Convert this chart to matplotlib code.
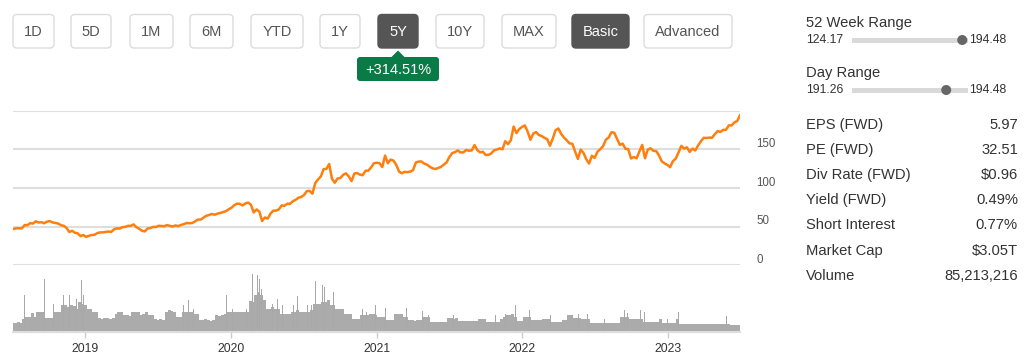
import numpy as np
import pandas as pd
import matplotlib
matplotlib.use("Agg")
import matplotlib.pyplot as plt
from matplotlib.patches import FancyBboxPatch, Polygon, Circle, Rectangle
from matplotlib.transforms import ScaledTranslation

plt.rcParams['font.family'] = ['Liberation Sans', 'DejaVu Sans']

W, H = 1026, 361

# weekly closes, one per week starting with the week of 2018-07-02
first_week = pd.Timestamp('2018-07-02')
price_weekly = [
    # 2018
    47.0, 47.8, 47.9, 47.7, 52.0, 51.9, 54.4, 54.0, 56.9, 55.3, 55.8, 54.4, 56.4,
    57.2, 55.5, 54.8, 54.1, 51.9, 51.1, 48.4, 43.1, 44.6, 42.1, 41.4, 37.7, 39.1,
    # 2019
    36.8, 38.1, 39.2, 39.4, 41.6, 42.6, 42.6, 43.2, 43.7, 43.2, 46.5, 47.8, 47.5,
    49.3, 49.7, 51.0, 51.1, 52.9, 49.3, 47.3, 44.7, 43.8, 47.5, 48.2, 49.7, 49.5,
    51.1, 50.8, 50.6, 52.0, 51.0, 50.2, 51.6, 50.7, 52.2, 53.3, 54.7, 54.4, 54.7,
    56.8, 59.1, 59.1, 61.6, 64.0, 65.0, 66.4, 65.4, 66.8, 67.7, 68.8, 69.9, 72.4,
    # 2020
    74.4, 77.6, 79.7, 79.6, 77.4, 80.0, 81.2, 78.3, 68.3, 72.3, 69.5, 57.3, 61.9,
    60.4, 66.9, 70.7, 70.7, 72.3, 77.5, 76.9, 79.7, 79.5, 82.9, 84.7, 87.4, 88.4,
    91.0, 95.9, 96.3, 92.6, 106.3, 111.1, 114.9, 124.4, 124.8, 131.0, 112.0, 106.8,
    112.3, 113.0, 117.0, 119.0, 115.0, 108.9, 118.7, 119.3, 117.3, 116.6, 122.3,
    122.4, 126.7, 132.0, 132.7,
    # 2021
    132.1, 127.1, 142.0, 132.0, 136.8, 135.4, 129.9, 121.3, 119.0, 121.0, 120.5,
    121.2, 123.0, 133.0, 134.2, 134.3, 131.5, 130.2, 127.5, 125.4, 124.6, 125.9,
    127.4, 130.2, 133.1, 140.0, 145.1, 146.4, 148.6, 145.9, 146.1, 149.1, 148.2,
    148.6, 155.5, 149.0, 146.1, 146.9, 142.7, 142.9, 144.8, 148.7, 149.8, 151.3,
    150.0, 160.6, 156.8, 161.8, 179.5, 171.1, 176.3, 179.0,
    # 2022
    181.0, 173.1, 162.4, 170.3, 172.4, 168.6, 167.3, 164.9, 163.2, 154.7, 164.0,
    174.7, 177.0, 170.1, 165.3, 161.8, 157.7, 157.3, 147.1, 137.6, 149.6, 145.4,
    137.1, 131.6, 141.7, 138.9, 147.0, 150.2, 154.1, 162.5, 165.4, 172.1, 171.5,
    163.6, 155.8, 157.4, 150.7, 150.4, 138.2, 140.1, 138.4, 147.3, 155.7, 138.4,
    149.7, 151.3, 148.1, 147.8, 142.2, 134.5, 131.9, 129.9,
    # 2023
    127.0, 134.8, 137.9, 145.9, 154.5, 151.0, 152.6, 146.7, 151.0, 148.5, 155.0,
    160.3, 164.9, 164.7, 165.2, 165.0, 169.7, 173.6, 172.6, 175.2, 175.4, 181.0,
    181.0, 184.9, 186.7, 194.0,
]

# typical daily volume per week, millions of shares
volume_weekly = [
    70, 68, 72, 70, 99, 112, 115, 140, 110, 149, 150,
    150, 104, 106, 104, 149, 145, 150, 198, 198, 186,
    198, 195, 174, 223, 211, 198, 174, 170, 149, 150,
    104, 100, 106, 104, 98, 104, 136, 149, 145, 124,
    124, 120, 149, 150, 149, 124, 130, 149, 124, 124,
    94, 90, 96, 92, 149, 161, 158, 149, 112, 115,
    149, 150, 149, 150,
    136, 136, 87, 87, 99, 87,
    85, 88, 124, 120, 124, 136, 149, 145, 149, 150,
    149, 149, 145, 150, 228, 223, 273, 298, 273, 236,
    174, 174, 186, 174, 170, 136, 136, 130, 136, 149,
    149, 161, 149, 145, 149, 149, 161, 211, 211, 205,
    223, 223, 236, 198, 198, 174, 170, 174, 136, 136,
    130, 99, 99, 95, 124, 124, 124, 136, 136, 124,
    112, 112, 112, 87, 87, 87, 136, 136, 130, 112,
    112, 87, 87, 85, 87, 87, 112, 112, 112, 74,
    74, 76, 74, 72, 74, 104, 104, 100, 104, 79,
    79, 82, 79, 79, 79, 80, 99, 99, 99, 74,
    74, 74, 74, 74, 99, 112, 124, 124, 136, 112,
    79, 79, 112, 112, 112, 87, 87, 87, 87, 99,
    99, 99, 74, 74, 74, 74, 87, 87, 129, 129,
    104, 104, 104, 94, 94, 94, 69, 69, 69, 69,
    69, 69, 69, 69, 69, 69, 69, 112, 112, 112,
    94, 94, 94, 94, 94, 74, 74, 74, 74, 74,
    74, 99, 69, 69, 69, 69, 69, 94, 60, 60,
    60, 60, 60, 60, 60, 60, 60, 60, 60, 60,
    62, 62, 62, 62, 62, 62, 55, 55, 55, 55,
]

# single-day volume spikes: position in weeks from first_week, millions
spike_week = [
    4.5, 11.7, 14.8, 18.0, 18.6, 20.6, 23.1, 24.9, 25.7, 26.5, 30.1, 37.3, 43.0,
    44.8, 46.3, 50.5, 55.8, 56.3, 59.4, 61.4, 63.2, 65.0, 69.4, 76.7, 79.0, 81.7,
    84.0, 86.2, 87.0, 88.0, 88.6, 89.4, 93.3, 95.1, 96.9, 100.7, 102.1, 105.8,
    107.3, 108.5, 111.2, 112.0, 113.2, 115.0, 118.6, 125.4, 126.9, 128.1, 130.2,
    133.7, 137.9, 138.8, 141.2, 146.9, 149.0, 158.2, 166.2, 173.0, 176.7, 177.9,
    179.3, 180.3, 185.3, 186.2, 189.7, 192.8, 200.9, 202.7, 206.0, 212.0, 219.1,
    220.3, 224.8, 226.3, 232.0, 234.6, 238.5, 244.1, 251.6, 255.7,
]
spike_volume = [
    273, 397, 211, 372, 273, 273, 248, 384, 273, 367, 248, 203, 273,
    236, 161, 198, 285, 211, 198, 198, 236, 174, 154, 273, 174, 218,
    174, 427, 347, 422, 392, 322, 211, 243, 203, 203, 268, 198,
    203, 377, 347, 335, 327, 298, 263, 174, 149, 174, 198,
    179, 161, 179, 181, 154, 129, 124, 144, 124, 136, 169,
    149, 198, 161, 179, 144, 129, 179, 136, 136, 94, 161,
    144, 161, 149, 161, 99, 149, 94, 119, 119,
]

buttons = ['1D', '5D', '1M', '6M', 'YTD', '1Y', '5Y', '10Y', 'MAX', 'Basic', 'Advanced']
active_buttons = ['5Y', 'Basic']
change_text = '+314.51%'

range_52w = (124.17, 194.48)
range_day = (191.26, 194.48)
last_price = 193.97

stat_names = ['EPS (FWD)', 'PE (FWD)', 'Div Rate (FWD)', 'Yield (FWD)',
              'Short Interest', 'Market Cap', 'Volume']
stat_values = ['5.97', '32.51', '$0.96', '0.49%', '0.77%', '$3.05T', '85,213,216']

year_labels = ['2019', '2020', '2021', '2022', '2023']
price_ticks = [0, 50, 100, 150, 200]
price_tick_labels = ['0', '50', '100', '150', '']

weeks = first_week + pd.to_timedelta(np.arange(len(price_weekly)) * 7, unit='D')
price_dates = weeks + pd.Timedelta(days=4)
vol_dates = weeks + pd.Timedelta(days=2)
spike_dates = first_week + pd.to_timedelta(np.round(np.array(spike_week) * 7), unit='D')
x_range = (pd.Timestamp('2018-07-05'), pd.Timestamp('2023-06-30'))

fig = plt.figure(figsize=(W / 100, H / 100), dpi=100)
fig.patch.set_facecolor('white')

# ---- ui layer in pixel coordinates ----
ui = fig.add_axes([0, 0, 1, 1])
ui.set_xlim(0, W)
ui.set_ylim(H, 0)
ui.axis('off')

btn_x = [(13, 54), (71, 111), (130, 173), (190, 233), (251, 303), (320, 360),
         (378, 418), (436, 484), (502, 556), (572, 629), (644, 732)]
for name, (x0, x1) in zip(buttons, btn_x):
    on = name in active_buttons
    ui.add_patch(FancyBboxPatch((x0, 14.5), x1 - x0, 33.5,
                                boxstyle='round,pad=0,rounding_size=4',
                                fc='#555555' if on else 'white',
                                ec='#555555' if on else '#dcdcdc', lw=1))
    ui.text((x0 + x1) / 2, 31.5, name, ha='center', va='center', fontsize=10.5,
            color='white' if on else '#555555')

green = '#0a7b46'
ui.add_patch(FancyBboxPatch((357, 57), 82, 24, boxstyle='round,pad=0,rounding_size=3',
                            fc=green, ec='none'))
ui.add_patch(Polygon([(391, 57.5), (398, 50.5), (405, 57.5)], closed=True, fc=green, ec='none'))
ui.text(398, 69.5, change_text, ha='center', va='center', fontsize=10.5, color='white')

# ranges
bar_x0, bar_x1, dot_r = 852, 968, 5
for title, (lo, hi), ty in [('52 Week Range', range_52w, 23), ('Day Range', range_day, 73)]:
    ui.text(806, ty, title, ha='left', va='center', fontsize=10.6, color='#333333')
    vy = ty + 17
    ui.text(806, vy, f'{lo:.2f}', ha='left', va='center', fontsize=8.8, color='#333333')
    ui.text(1006, vy, f'{hi:.2f}', ha='right', va='center', fontsize=8.8, color='#333333')
    ui.add_patch(Rectangle((bar_x0, vy - 2.5), bar_x1 - bar_x0, 5, fc='#d9d9d9', ec='none'))
    frac = (last_price - lo) / (hi - lo)
    cx = bar_x0 + dot_r + frac * (bar_x1 - bar_x0 - 2 * dot_r)
    ui.add_patch(Circle((cx, vy), dot_r, fc='#666666', ec='none'))

for i, (n, v) in enumerate(zip(stat_names, stat_values)):
    y = 125 + i * 25.1
    ui.text(806, y, n, ha='left', va='center', fontsize=10.6, color='#333333')
    ui.text(1018, y, v, ha='right', va='center', fontsize=10.6, color='#333333')

# ---- price panel ----
ax = fig.add_axes([13 / W, 1 - 265.3 / H, 727 / W, (265.3 - 110.7) / H])
ax.set_facecolor('none')
ax.plot(price_dates, price_weekly, color='#ff7f0e', lw=1.8, solid_joinstyle='round')
ax.set_xlim(*x_range)
ax.set_ylim(0, 200)
ax.set_yticks(price_ticks)
ax.set_yticklabels(price_tick_labels)
ax.yaxis.tick_right()
ax.tick_params(axis='y', length=0, pad=12, labelsize=8.3, labelcolor='#555555')
for lab in ax.get_yticklabels():
    lab.set_horizontalalignment('left')
    lab.set_transform(lab.get_transform() + ScaledTranslation(0, 7 / 100, fig.dpi_scale_trans))
ax.set_xticks([])
ax.grid(axis='y', color='#dedede', lw=1.5)
ax.set_axisbelow(True)
for s in ax.spines.values():
    s.set_visible(False)

# ---- volume panel ----
av = fig.add_axes([13 / W, 1 - 332 / H, 727 / W, (332 - 266) / H])
av.set_facecolor('none')
av.bar(vol_dates, volume_weekly, width=7.4, color='#ababab', lw=0)
av.bar(spike_dates, spike_volume, width=1.6, color='#a8a8a8', lw=0)
av.set_xlim(*x_range)
av.set_ylim(0, 490)
av.set_yticks([])
av.set_xticks([pd.Timestamp(f'{y}-01-01') for y in year_labels])
av.set_xticklabels(year_labels)
av.tick_params(axis='x', length=4, width=1, color='#cccccc', pad=4,
               labelsize=8.8, labelcolor='#333333')
for s in ['top', 'left', 'right']:
    av.spines[s].set_visible(False)
av.spines['bottom'].set_color('#dddddd')
av.spines['bottom'].set_linewidth(1.5)

fig.savefig('out.png', dpi=100, facecolor='white')
